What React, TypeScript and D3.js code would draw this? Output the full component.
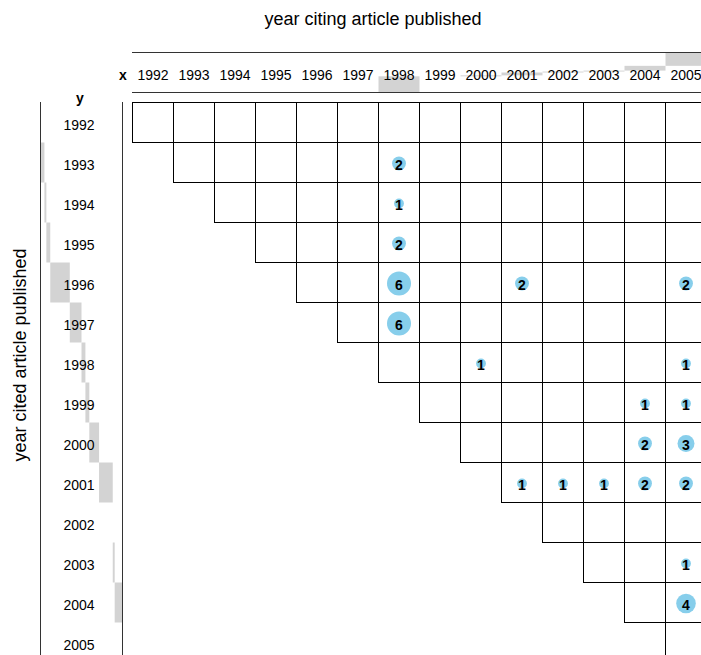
import React from "react";
import * as d3 from "d3";

const years = [1992, 1993, 1994, 1995, 1996, 1997, 1998, 1999, 2000, 2001, 2002, 2003, 2004, 2005];
const citedYear = [1993, 1994, 1995, 1996, 1996, 1996, 1997, 1998, 1998, 1999, 1999, 2000, 2000, 2001, 2001, 2001, 2001, 2001, 2003, 2004];
const citingYear = [1998, 1998, 1998, 1998, 2001, 2005, 1998, 2000, 2005, 2004, 2005, 2004, 2005, 2001, 2002, 2003, 2004, 2005, 2005, 2005];
const counts = [2, 1, 2, 6, 2, 2, 6, 1, 1, 1, 1, 2, 3, 1, 1, 1, 2, 2, 1, 4];

const W = 701;
const H = 655;
const FONT = "'Liberation Sans', Arial, sans-serif";

export default function App() {
  const x = d3.scaleBand<number>().domain(years).range([132.5, 706.5]);
  const y = d3.scaleBand<number>().domain(years).range([102.5, 662.5]);
  const r = d3.scaleSqrt().domain([0, 6]).range([0, 12]);
  const links = counts.map((c, i) => ({ cited: citedYear[i], citing: citingYear[i], n: c }));
  const total = d3.sum(counts);

  const rowTot = years.map((yr) => d3.sum(links.filter((l) => l.cited === yr), (l) => l.n));
  const colTot = years.map((yr) => d3.sum(links.filter((l) => l.citing === yr), (l) => l.n));
  const rowCum = Array.from(d3.cumsum(rowTot));
  const colCum = Array.from(d3.cumsum(colTot));

  const xBar = d3.scaleLinear().domain([0, total]).range([40.5, 122.5]);
  const yBar = d3.scaleLinear().domain([0, total]).range([92.5, 52.5]);

  const bw = x.bandwidth();
  const bh = y.bandwidth();

  return (
    <svg width={W} height={H} style={{ position: "absolute", left: 0, top: 0 }} fontFamily={FONT}>
      <rect x={0} y={0} width={W} height={H} fill="#fff" />
      {/* left cumulative bars */}
      {years.map((yr, i) => {
        const before = i === 0 ? 0 : rowCum[i - 1];
        const after = rowCum[i];
        if (after - before <= 0) return null;
        return (
          <rect key={"lb" + yr} x={xBar(before)} y={y(yr)!} width={xBar(after) - xBar(before)} height={bh} fill="#d3d3d3" />
        );
      })}
      {/* top cumulative bars */}
      {years.map((yr, i) => {
        const before = i === 0 ? 0 : colCum[i - 1];
        const after = colCum[i];
        if (after - before <= 0) return null;
        return (
          <rect key={"tb" + yr} x={x(yr)!} y={yBar(after)} width={bw} height={yBar(before) - yBar(after)} fill="#d3d3d3" />
        );
      })}
      {/* panel lines */}
      <line x1={xBar(0)} x2={xBar(0)} y1={102} y2={H} stroke="#333" strokeWidth={1} />
      <line x1={xBar(total)} x2={xBar(total)} y1={102} y2={H} stroke="#333" strokeWidth={1} />
      <line x1={132} x2={W} y1={yBar(total)} y2={yBar(total)} stroke="#333" strokeWidth={1} />
      <line x1={132} x2={W} y1={yBar(0)} y2={yBar(0)} stroke="#333" strokeWidth={1} />

      {/* grid cells */}
      {years.map((ry, i) =>
        years
          .filter((cy, j) => j >= i)
          .map((cy) => (
            <rect key={ry + "-" + cy} x={x(cy)!} y={y(ry)!} width={bw} height={bh} fill="none" stroke="#000" strokeWidth={1} />
          ))
      )}

      {/* labels */}
      {years.map((yr) => (
        <text key={"xl" + yr} x={x(yr)! + bw / 2} y={75} fontSize={14} textAnchor="middle" dominantBaseline="central" fill="#000">
          {yr}
        </text>
      ))}
      {years.map((yr) => (
        <text key={"yl" + yr} x={79} y={y(yr)! + bh / 2 + 2} fontSize={14} textAnchor="middle" dominantBaseline="central" fill="#000">
          {yr}
        </text>
      ))}
      <text x={123} y={75} fontSize={14} fontWeight="bold" textAnchor="middle" dominantBaseline="central">x</text>
      <text x={80} y={98} fontSize={14} fontWeight="bold" textAnchor="middle" dominantBaseline="central">y</text>

      {/* circles */}
      {links.map((l, i) => {
        const cx = x(l.citing)! + bw / 2;
        const cy = y(l.cited)! + bh / 2 + 1;
        return (
          <g key={"c" + i}>
            <circle cx={cx} cy={cy} r={r(l.n)} fill="#87ceeb" />
            <text x={cx} y={cy + 1.5} fontSize={14} fontWeight="bold" textAnchor="middle" dominantBaseline="central" fill="#000">
              {l.n}
            </text>
          </g>
        );
      })}

      {/* titles */}
      <text x={373} y={19} fontSize={18} textAnchor="middle" dominantBaseline="central">year citing article published</text>
      <text transform="translate(20,355) rotate(-90)" fontSize={18} textAnchor="middle" dominantBaseline="central">year cited article published</text>
    </svg>
  );
}
